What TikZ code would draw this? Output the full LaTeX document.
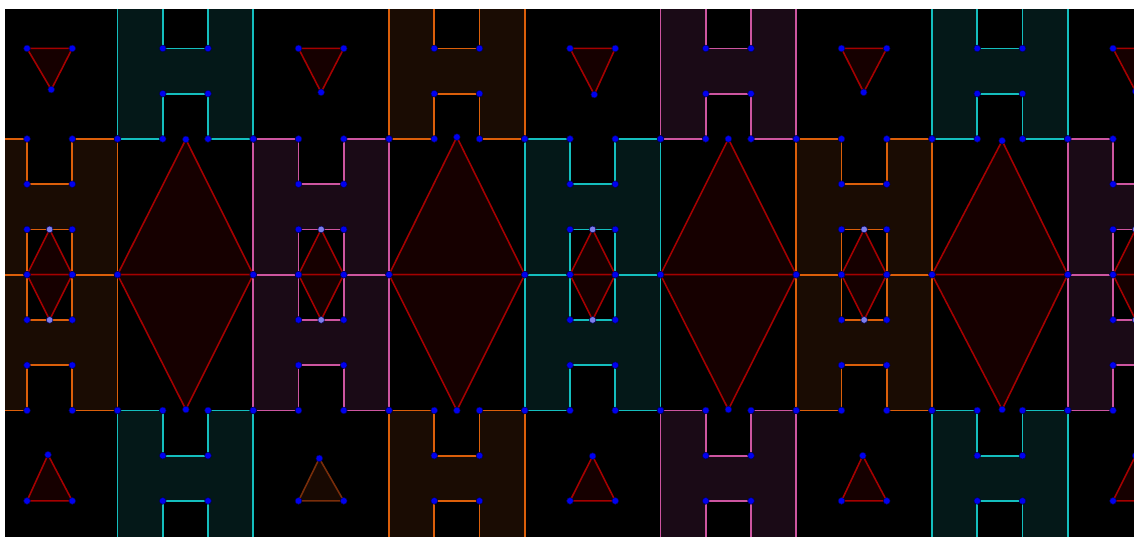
\documentclass[tikz,border=0pt]{standalone}
\definecolor{cyL}{RGB}{20,190,190}
\definecolor{cyF}{RGB}{4,24,24}
\definecolor{orL}{RGB}{220,95,10}
\definecolor{orF}{RGB}{26,12,3}
\definecolor{mgL}{RGB}{205,85,160}
\definecolor{mgF}{RGB}{26,10,22}
\definecolor{trL}{RGB}{165,0,0}
\definecolor{trF}{RGB}{22,0,0}
\definecolor{brL}{RGB}{120,45,10}
\definecolor{brF}{RGB}{24,9,2}
\definecolor{ptB}{RGB}{0,0,240}
\definecolor{ptO}{RGB}{0,0,90}
\definecolor{ptL}{RGB}{125,125,235}
\tikzset{
  tileline/.style={line width=1.1pt, line join=miter},
  triline/.style={line width=1.0pt, line join=round},
  dot/.style={fill=ptB, draw=ptO, line width=0.3pt},
  ldot/.style={fill=ptL, draw=ptO, line width=0.3pt}
}
\newcommand\Htile[4]{%
  \filldraw[tileline, draw=#3, fill=#4, shift={(#1,#2)}] (0,0) -- (0,3) -- (1,3) -- (1,2) -- (2,2) -- (2,3) -- (3,3) -- (3,0) -- (2,0) -- (2,1) -- (1,1) -- (1,0) -- cycle;}
\newcommand\Hdots[2]{%
  \foreach \dx/\dy in {0/0,0/3,1/3,1/2,2/2,2/3,3/3,3/0,2/0,2/1,1/1,1/0}
    \fill[dot, shift={(#1,#2)}] (\dx,\dy) circle (2.1pt);}
\newcommand\Tri[8]{%
  \filldraw[triline, draw=#7, fill=#8] (#1,#2) -- (#3,#4) -- (#5,#6) -- cycle;}
\begin{document}
\begin{tikzpicture}
\useasboundingbox (-0.597,-5.78) rectangle (24.464,6.07);
\fill[white] (-0.597,-5.78) rectangle (24.464,6.07);
\fill[black] (-0.486,-5.9) rectangle (24.6,5.87);
\begin{scope}
\clip (-0.486,-5.9) rectangle (24.6,5.87);
% top and bottom bands
\foreach \a/\l/\f in {2/cyL/cyF, 8/orL/orF, 14/mgL/mgF, 20/cyL/cyF} {
  \Htile{\a}{3}{\l}{\f}
  \Htile{\a}{-6}{\l}{\f}
}
% middle band
\foreach \a/\l/\f in {-1/orL/orF, 5/mgL/mgF, 11/cyL/cyF, 17/orL/orF, 23/mgL/mgF} {
  \Htile{\a}{0}{\l}{\f}
  \Htile{\a}{-3}{\l}{\f}
}
% big diamonds
\foreach \x/\cx/\t/\b in {2/3.51/2.99/-2.98, 8/9.5/3.04/-3.0, 14/15.5/3.0/-2.98, 20/21.55/2.96/-2.98} {
  \Tri{\x}{0}{\x+3}{0}{\cx}{\t}{trL}{trF}
  \Tri{\x}{0}{\x+3}{0}{\cx}{\b}{trL}{trF}
}
% small diamonds
\foreach \a in {-1,5,11,17,23} {
  \Tri{\a+1}{0}{\a+2}{0}{\a+1.5}{1}{trL}{trF}
  \Tri{\a+1}{0}{\a+2}{0}{\a+1.5}{-1}{trL}{trF}
}
% top triangles
\foreach \x/\cx/\cy in {0/0.536/4.09, 6/6.5/4.03, 12/12.536/3.98, 18/18.49/4.03, 24/24.5/4.05} {
  \Tri{\x}{5}{\x+1}{5}{\cx}{\cy}{trL}{trF}
}
% bottom triangles
\foreach \x/\cx/\cy/\l/\f in {0/0.464/-3.98/trL/trF, 6/6.46/-4.06/brL/brF, 12/12.5/-4.01/trL/trF, 18/18.47/-4.0/trL/trF, 24/24.5/-4.0/trL/trF} {
  \Tri{\x}{-5}{\x+1}{-5}{\cx}{\cy}{\l}{\f}
}
% points
\foreach \a in {2,8,14,20} { \Hdots{\a}{3} \Hdots{\a}{-6} }
\foreach \a in {-1,5,11,17,23} { \Hdots{\a}{0} \Hdots{\a}{-3}
  \fill[ldot] (\a+1.5,1) circle (2.1pt);
  \fill[ldot] (\a+1.5,-1) circle (2.1pt); }
\foreach \cx/\t/\b in {3.51/2.99/-2.98, 9.5/3.04/-3.0, 15.5/3.0/-2.98, 21.55/2.96/-2.98} {
  \fill[dot] (\cx,\t) circle (2.1pt);
  \fill[dot] (\cx,\b) circle (2.1pt);
}
\foreach \x/\cx/\cy in {0/0.536/4.09, 6/6.5/4.03, 12/12.536/3.98, 18/18.49/4.03, 24/24.5/4.05} {
  \fill[dot] (\x,5) circle (2.1pt);
  \fill[dot] (\x+1,5) circle (2.1pt);
  \fill[dot] (\cx,\cy) circle (2.1pt);
}
\foreach \x/\cx/\cy in {0/0.464/-3.98, 6/6.46/-4.06, 12/12.5/-4.01, 18/18.47/-4.0, 24/24.5/-4.0} {
  \fill[dot] (\x,-5) circle (2.1pt);
  \fill[dot] (\x+1,-5) circle (2.1pt);
  \fill[dot] (\cx,\cy) circle (2.1pt);
}
\end{scope}
\end{tikzpicture}
\end{document}
